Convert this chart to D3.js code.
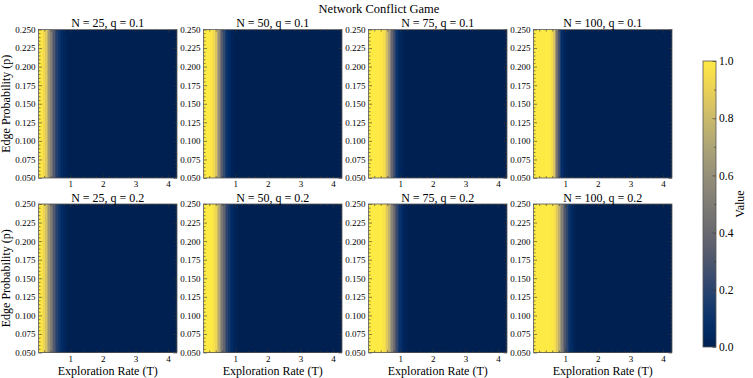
<!DOCTYPE html>
<html>
<head>
<meta charset="utf-8">
<script src="https://cdn.jsdelivr.net/npm/d3@7"></script>
<style>
  body { margin: 0; background: #fff; }
  svg text { font-family: "Liberation Serif", "Times New Roman", serif; fill: #000; }
</style>
</head>
<body>
<svg id="chart" width="753" height="378"></svg>
<script>
// grid of the heatmap: column centres in T, every 0.05
var tGrid = d3.range(85).map(function(i){ return +(0.05 + i * 0.05).toFixed(2); });
var yTicks = [0.05, 0.075, 0.1, 0.125, 0.15, 0.175, 0.2, 0.225, 0.25];
var xTicks = [1, 2, 3, 4];
var cbTicks = [0, 0.2, 0.4, 0.6, 0.8, 1.0];

var nLabels = [25, 50, 75, 100];
var qLabels = [0.1, 0.2];

// value per T column, the columns after these are 0
var valsN25q01  = [1, 0.99, 0.97, 0.93, 0.86, 0.76, 0.64, 0.52, 0.41, 0.31, 0.23, 0.17, 0.12, 0.08, 0.05, 0.03, 0.02, 0.01];
var valsN50q01  = [1, 1, 1, 1, 0.99, 0.97, 0.93, 0.85, 0.73, 0.59, 0.45, 0.33, 0.23, 0.15, 0.1, 0.06, 0.04, 0.02, 0.01];
var valsN75q01  = [1, 1, 1, 1, 1, 1, 1, 0.99, 0.98, 0.95, 0.9, 0.81, 0.67, 0.52, 0.38, 0.26, 0.17, 0.1, 0.06, 0.03, 0.02, 0.01];
var valsN100q01 = [1, 1, 1, 1, 1, 1, 1, 1, 1, 1, 0.99, 0.95, 0.85, 0.66, 0.45, 0.28, 0.15, 0.08, 0.04, 0.02, 0.01];
var valsN25q02  = [1, 0.99, 0.96, 0.91, 0.83, 0.73, 0.62, 0.51, 0.41, 0.32, 0.24, 0.18, 0.13, 0.09, 0.06, 0.04, 0.02, 0.01];
var valsN50q02  = [1, 1, 1, 1, 1, 0.99, 0.96, 0.91, 0.83, 0.72, 0.6, 0.48, 0.37, 0.28, 0.2, 0.14, 0.09, 0.06, 0.03, 0.02, 0.01];
var valsN75q02  = [1, 1, 1, 1, 1, 1, 1, 1, 0.99, 0.97, 0.93, 0.86, 0.77, 0.66, 0.54, 0.42, 0.31, 0.22, 0.15, 0.1, 0.06, 0.03, 0.02, 0.01];
var valsN100q02 = [1, 1, 1, 1, 1, 1, 1, 1, 1, 1, 1, 0.99, 0.97, 0.93, 0.86, 0.76, 0.64, 0.52, 0.4, 0.3, 0.21, 0.14, 0.09, 0.05, 0.03, 0.01];

function pad(v){
  return tGrid.map(function(t, i){ return i < v.length ? v[i] : 0; });
}

var panelVals = [
  [valsN25q01, valsN50q01, valsN75q01, valsN100q01],
  [valsN25q02, valsN50q02, valsN75q02, valsN100q02]
];

var svg = d3.select("#chart");
var color = d3.scaleSequential(d3.interpolateCividis).domain([0, 1]);

var pw = 138.5, ph = 148.5;
var lefts = [38.5, 203.5, 368.5, 533.5];
var tops = [29.5, 204];

var x = d3.scaleLinear().domain([0.025, 4.275]).range([0, pw]);
var y = d3.scaleLinear().domain([0.05, 0.25]).range([ph, 0]);
var xMinor = d3.range(0.2, 4.25, 0.2).filter(function(v){ return Math.abs(v - Math.round(v)) > 0.01; });
var yMinor = d3.range(0.055, 0.25, 0.005).filter(function(v){ return Math.abs(v / 0.025 - Math.round(v / 0.025)) > 0.01; });

svg.append("text")
  .attr("x", 379).attr("y", 13)
  .attr("text-anchor", "middle")
  .style("font-size", "12.5px")
  .text("Network Conflict Game");

qLabels.forEach(function(q, r){
  nLabels.forEach(function(n, c){
    var g = svg.append("g").attr("transform", "translate(" + lefts[c] + "," + tops[r] + ")");
    var vals = pad(panelVals[r][c]);

    g.append("g").attr("shape-rendering", "crispEdges")
      .selectAll("rect.cell")
      .data(tGrid)
      .enter().append("rect")
      .attr("class", "cell")
      .attr("x", function(t){ return x(t - 0.025); })
      .attr("y", 0)
      .attr("width", function(t, i){ return i === tGrid.length - 1 ? x(0.05) - x(0) : x(0.05) - x(0) + 1; })
      .attr("height", ph)
      .attr("fill", function(t, i){ return color(vals[i]); });

    // ticks on all four sides, pointing in
    g.append("g").attr("transform", "translate(0," + ph + ")")
      .call(d3.axisBottom(x).tickValues(xTicks).tickFormat(d3.format("d")).tickSizeInner(-3.5).tickSizeOuter(0).tickPadding(3));
    g.append("g").attr("transform", "translate(0," + ph + ")")
      .call(d3.axisBottom(x).tickValues(xMinor).tickFormat("").tickSizeInner(-2).tickSizeOuter(0));
    g.append("g")
      .call(d3.axisTop(x).tickValues(xTicks).tickFormat("").tickSizeInner(-3.5).tickSizeOuter(0));
    g.append("g")
      .call(d3.axisTop(x).tickValues(xMinor).tickFormat("").tickSizeInner(-2).tickSizeOuter(0));
    g.append("g")
      .call(d3.axisLeft(y).tickValues(yTicks).tickFormat(d3.format(".3f")).tickSizeInner(-3.5).tickSizeOuter(0).tickPadding(3));
    g.append("g")
      .call(d3.axisLeft(y).tickValues(yMinor).tickFormat("").tickSizeInner(-2).tickSizeOuter(0));
    g.append("g").attr("transform", "translate(" + pw + ",0)")
      .call(d3.axisRight(y).tickValues(yTicks).tickFormat("").tickSizeInner(-3.5).tickSizeOuter(0));
    g.append("g").attr("transform", "translate(" + pw + ",0)")
      .call(d3.axisRight(y).tickValues(yMinor).tickFormat("").tickSizeInner(-2).tickSizeOuter(0));

    g.selectAll(".domain").remove();
    g.selectAll(".tick line").attr("stroke", "#333").attr("stroke-width", 0.6);
    g.selectAll(".tick text").style("font-size", "9px").style("font-family", "Liberation Serif, serif");

    g.append("rect")
      .attr("width", pw).attr("height", ph)
      .attr("fill", "none").attr("stroke", "#555").attr("stroke-width", 0.8);

    g.append("text")
      .attr("x", pw / 2).attr("y", -2.5)
      .attr("text-anchor", "middle")
      .style("font-size", "12px")
      .text("N = " + n + ", q = " + q);

    if (r === 1) {
      g.append("text")
        .attr("x", pw / 2).attr("y", ph + 22.5)
        .attr("text-anchor", "middle")
        .style("font-size", "12px")
        .text("Exploration Rate (T)");
    }
    if (c === 0) {
      g.append("text")
        .attr("transform", "translate(" + (-29) + "," + (ph / 2) + ") rotate(-90)")
        .attr("text-anchor", "middle")
        .style("font-size", "12px")
        .text("Edge Probability (p)");
    }
  });
});

// colour bar
var cbX = 703, cbY = 61, cbW = 13, cbH = 286;
var defs = svg.append("defs");
var grad = defs.append("linearGradient").attr("id", "cb").attr("x1", 0).attr("y1", 1).attr("x2", 0).attr("y2", 0);
grad.selectAll("stop")
  .data(d3.range(0, 1.0001, 0.05))
  .enter().append("stop")
  .attr("offset", function(d){ return d; })
  .attr("stop-color", function(d){ return color(d); });

var cbScale = d3.scaleLinear().domain([0, 1]).range([cbY + cbH, cbY]);
svg.append("rect")
  .attr("x", cbX).attr("y", cbY).attr("width", cbW).attr("height", cbH)
  .attr("fill", "url(#cb)").attr("stroke", "#555").attr("stroke-width", 0.8);

var cbAxis = svg.append("g").attr("transform", "translate(" + (cbX + cbW) + ",0)")
  .call(d3.axisRight(cbScale).tickValues(cbTicks).tickFormat(d3.format(".1f")).tickSizeInner(-3.5).tickSizeOuter(0).tickPadding(3));
svg.append("g").attr("transform", "translate(" + (cbX + cbW) + ",0)")
  .call(d3.axisRight(cbScale).tickValues(d3.range(0.1, 1, 0.2)).tickFormat("").tickSizeInner(-2).tickSizeOuter(0));
svg.selectAll(".domain").remove();
cbAxis.selectAll(".tick text").style("font-size", "11.5px").style("font-family", "Liberation Serif, serif");
svg.selectAll(".tick line").attr("stroke", "#333").attr("stroke-width", 0.6);

svg.append("text")
  .attr("transform", "translate(744," + (cbY + cbH / 2) + ") rotate(-90)")
  .attr("text-anchor", "middle")
  .style("font-size", "12px")
  .text("Value");
</script>
</body>
</html>
